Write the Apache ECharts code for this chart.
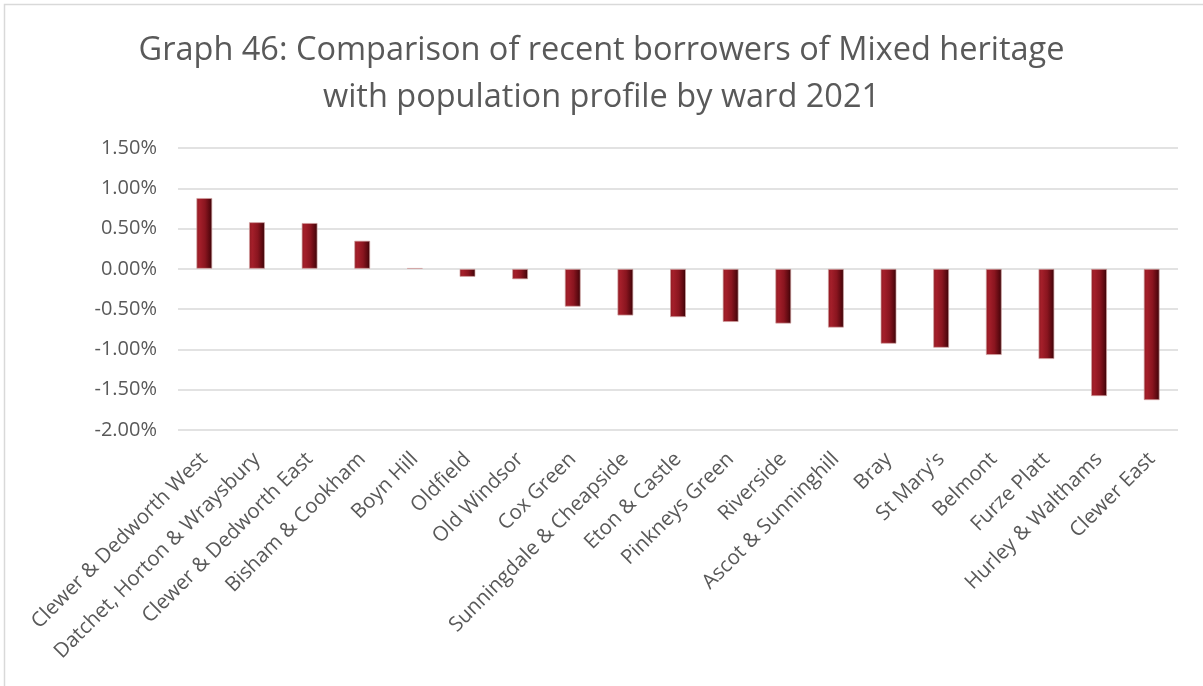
<!DOCTYPE html>
<html>
<head>
<meta charset="utf-8">
<script src="https://cdn.jsdelivr.net/npm/echarts@6/dist/echarts.min.js"></script>
<style>
  html, body { margin: 0; padding: 0; background: #ffffff; }
  #chart { width: 1203px; height: 686px; }
</style>
</head>
<body>
<div id="chart"></div>
<script>
// Wards, ordered from largest over-representation to largest under-representation
const wards = [
  'Clewer & Dedworth West', 'Datchet, Horton & Wraysbury', 'Clewer & Dedworth East',
  'Bisham & Cookham', 'Boyn Hill', 'Oldfield', 'Old Windsor', 'Cox Green',
  'Sunningdale & Cheapside', 'Eton & Castle', 'Pinkneys Green', 'Riverside',
  'Ascot & Sunninghill', 'Bray', "St Mary's", 'Belmont', 'Furze Platt',
  'Hurley & Walthams', 'Clewer East'
];
// Difference (percentage points) between borrowers and population share
const difference = [
  0.88, 0.58, 0.57, 0.35, 0.01, -0.10, -0.13, -0.47,
  -0.58, -0.60, -0.66, -0.68, -0.73, -0.93, -0.98, -1.07, -1.12,
  -1.58, -1.63
];
const titleLines = [
  'Graph 46: Comparison of recent borrowers of Mixed heritage',
  'with population profile by ward 2021'
];

const chart = echarts.init(document.getElementById('chart'), null, { renderer: 'canvas' });

const barFill = new echarts.graphic.LinearGradient(0, 0, 1, 0, [
  { offset: 0, color: '#8e1a22' },
  { offset: 0.2, color: '#a41f2a' },
  { offset: 0.55, color: '#8a151f' },
  { offset: 0.85, color: '#58080f' },
  { offset: 1, color: '#2e0205' }
]);

chart.setOption({
  backgroundColor: '#ffffff',
  animation: false,
  textStyle: { fontFamily: 'Open Sans' },
  graphic: [{
    type: 'rect',
    shape: { x: 4.5, y: 4.5, width: 1220, height: 700 },
    style: { fill: 'none', stroke: '#d9d9d9', lineWidth: 1.5 },
    silent: true
  }],
  title: {
    text: titleLines.join('\n'),
    left: 'center',
    top: 22,
    textStyle: {
      fontFamily: 'Open Sans',
      fontSize: 32.5,
      fontWeight: 'normal',
      color: '#595959',
      lineHeight: 47
    }
  },
  grid: { left: 178, right: 25, top: 148, bottom: 256, containLabel: false },
  xAxis: {
    type: 'category',
    data: wards,
    position: 'bottom',
    axisLine: { show: false, onZero: false },
    axisTick: { show: false },
    axisLabel: {
      rotate: 45,
      interval: 0,
      fontSize: 20.5,
      color: '#595959',
      margin: 26
    }
  },
  yAxis: {
    type: 'value',
    min: -2,
    max: 1.5,
    interval: 0.5,
    axisLine: { show: false },
    axisTick: { show: false },
    splitLine: { lineStyle: { color: '#d9d9d9', width: 1.5 } },
    axisLabel: {
      fontSize: 20,
      color: '#595959',
      margin: 21,
      formatter: v => v.toFixed(2) + '%'
    }
  },
  series: [{
    type: 'bar',
    data: difference,
    barWidth: 16,
    itemStyle: {
      color: barFill,
      borderColor: 'rgba(210,160,160,0.7)',
      borderWidth: 1
    }
  }]
});
</script>
</body>
</html>
